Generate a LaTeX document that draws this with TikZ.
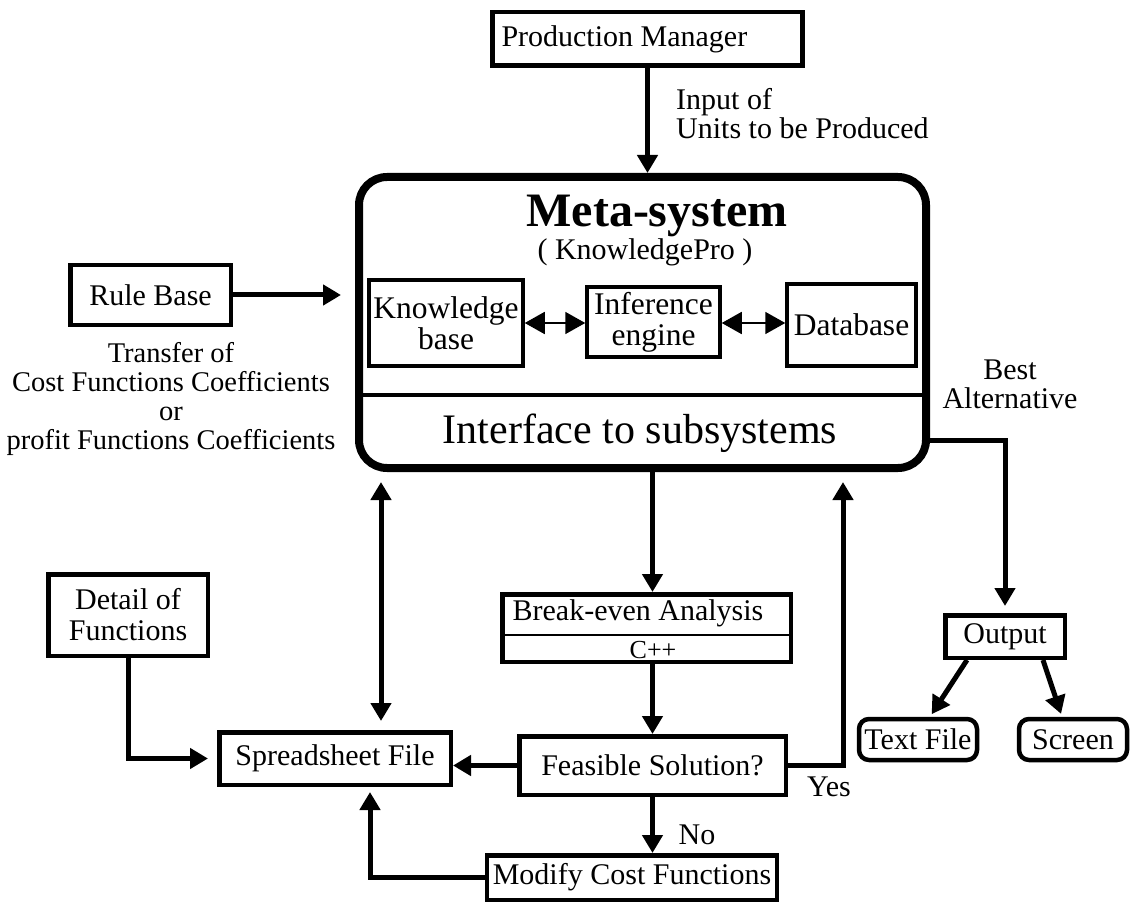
\documentclass[tikz,border=0pt]{standalone}
\usepackage{fontspec}
\setmainfont{Liberation Serif}
\usetikzlibrary{arrows.meta}
\begin{document}
\begin{tikzpicture}[x=1pt,y=-1pt,
  box/.style={draw, line width=4.5pt, inner sep=0pt, font=\fontsize{30}{31}\selectfont, align=center},
  inbox/.style={box, line width=4pt, font=\fontsize{31.5}{31}\selectfont},
  rbox/.style={box, rounded corners=10pt},
  lbl/.style={font=\fontsize{30}{29}\selectfont, align=center, inner sep=0pt},
  conn/.style={line width=5pt, -{Triangle[length=18pt,width=20pt]}},
  twoway/.style={line width=5pt, {Triangle[length=18pt,width=20pt]}-{Triangle[length=18pt,width=20pt]}},
  twin/.style={line width=1.8pt, {Triangle[length=20pt,width=22pt]}-{Triangle[length=20pt,width=22pt]}},
]
\useasboundingbox (0,0) rectangle (1136,904);

% --- top: production manager
\node[box, minimum width=310pt, minimum height=53.5pt, text width=292pt, align=flush left] (pm) at (647.5,39) {Production Manager};

% --- meta-system frame
\node[draw, line width=8pt, rounded corners=28pt, minimum width=567pt, minimum height=291pt, inner sep=0pt] (meta) at (642.5,322.5) {};
\node[font=\fontsize{48}{48}\selectfont\bfseries, inner sep=0pt, anchor=base] (title) at (657,227) {Meta-system};
\node[lbl, anchor=base] (kpro) at (645,260) {( KnowledgePro )};
\node[inbox, minimum width=153.5pt, minimum height=85.5pt] (kb) at (446,323) {Knowledge\\base};
\node[inbox, minimum width=132.5pt, minimum height=70pt] (ie) at (653.5,322) {Inference\\engine};
\node[inbox, minimum width=128.5pt, minimum height=81.5pt] (db) at (851.5,325) {Database};
\coordinate (div) at (0,395);
\draw[line width=4pt] (div -| meta.west) -- (div -| meta.east);
\node[lbl, font=\fontsize{42}{42}\selectfont] (iface) at (640,433) {Interface to subsystems};

% --- left side
\node[box, minimum width=160.5pt, minimum height=60pt] (rule) at (150.5,295) {Rule Base};
\node[lbl, font=\fontsize{28.5}{29}\selectfont] (transfer) at (171,399) {Transfer of\\Cost Functions Coefficients\\or\\profit Functions Coefficients};
\node[box, minimum width=159.5pt, minimum height=81.5pt] (det) at (128,615) {Detail of\\Functions};
\node[box, minimum width=231.5pt, minimum height=52.5pt] (ss) at (335,758.5) {Spreadsheet File};

% --- centre column
\node[box, minimum width=288.5pt, minimum height=67.5pt] (be) at (646.5,628) {};
\node[lbl] (betxt) at (638,613) {Break-even Analysis};
\node[font=\fontsize{26}{26}\selectfont, inner sep=0pt] (cpp) at (653,650) {C++};
\coordinate (bediv) at (0,635);
\draw[line width=1.2pt] (bediv -| be.west) -- (bediv -| be.east);
\node[box, minimum width=266.5pt, minimum height=58.5pt] (fs) at (652.5,765.5) {Feasible Solution?};
\node[box, minimum width=290pt, minimum height=44.5pt] (mod) at (632,877.5) {Modify Cost Functions};

% --- right side
\node[box, minimum width=119.5pt, minimum height=42.5pt] (out) at (1005,636.5) {Output};
\node[rbox, minimum width=118pt, minimum height=41pt] (tf) at (918,739.5) {Text File};
\node[rbox, minimum width=108pt, minimum height=41pt] (scr) at (1073,739.5) {Screen};
\node[lbl] (best) at (1010,384) {Best\\Alternative};
\node[lbl] (yes) at (829,787) {Yes};
\node[lbl] (no) at (697,835) {No};
\node[lbl, align=left, anchor=west] (input) at (676,114) {Input of\\Units to be Produced};

% --- connectors
\coordinate (yx) at (843,0);
\coordinate (ssx) at (381,0);
\coordinate (modx) at (370,0);
\coordinate (bay) at (0,440);

\draw[conn] (pm.south) -- (pm.south |- meta.north);
\draw[conn, shorten >=14pt] (rule.east) -- (rule.east -| meta.west);
\draw[twin] (kb.east) -- (kb.east -| ie.west);
\draw[twin] (ie.east |- kb.east) -- (kb.east -| db.west);

\draw[conn] (fs |- meta.south) -- (fs |- be.north);
\draw[conn] (fs |- be.south) -- (fs.north);
\draw[conn] (fs.south) -- (fs.south |- mod.north);
\draw[conn] (fs.west) -- (fs.west -| ss.east);
\draw[conn, shorten >=10pt] (fs.east) -| (yx |- meta.south);
\draw[conn, shorten >=5pt] (mod.west) -| (modx |- ss.south);
\draw[conn, shorten >=9pt] (det.south) |- (ss.west);
\draw[twoway, shorten <=10pt, shorten >=9pt] (ssx |- meta.south) -- (ssx |- ss.north);

\draw[conn, shorten >=7pt] (meta.east |- bay) -| (out.north);
\draw[conn, shorten >=3pt] ([xshift=-38pt]out.south) -- ([xshift=12pt]tf.north);
\draw[conn, shorten >=3pt] ([xshift=38pt]out.south) -- ([xshift=-11pt]scr.north);
\end{tikzpicture}
\end{document}
